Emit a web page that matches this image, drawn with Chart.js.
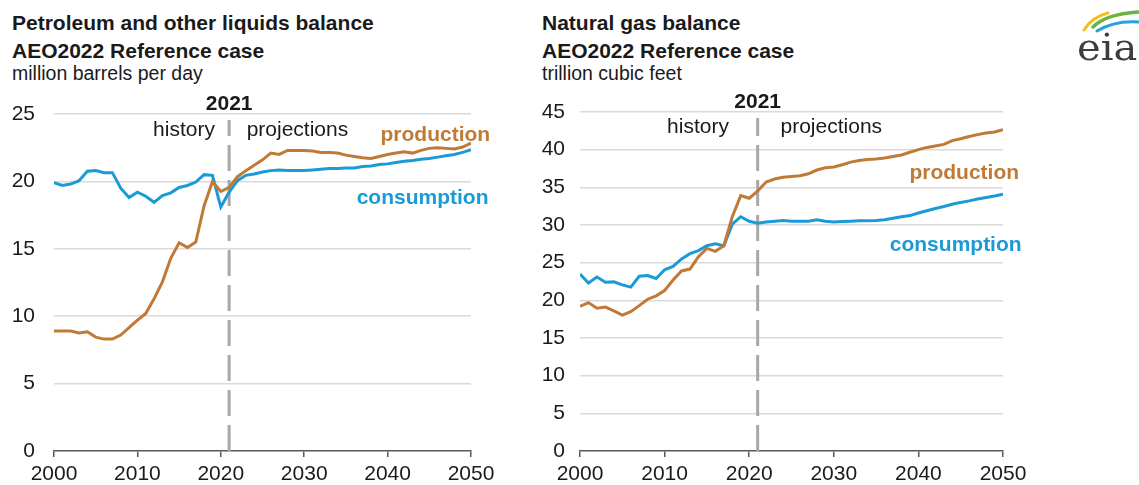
<!DOCTYPE html>
<html>
<head>
<meta charset="utf-8">
<script src="https://cdn.jsdelivr.net/npm/chart.js@4/dist/chart.umd.min.js"></script>
<style>
  body { margin: 0; width: 1139px; height: 485px; background: #fff; position: relative; overflow: hidden;
         font-family: "Liberation Sans", Arial, sans-serif; color: #1a1a1a; }
  canvas { position: absolute; top: 0; }
  .t { position: absolute; white-space: nowrap; }
  .b { font-weight: bold; font-size: 21px; line-height: 21px; }
  .s { font-size: 19.5px; line-height: 19.5px; }
</style>
</head>
<body>
<div class="t b" style="left:12px; top:12px">Petroleum and other liquids balance</div>
<div class="t b" style="left:12px; top:40px">AEO2022 Reference case</div>
<div class="t s" style="left:12px; top:64px">million barrels per day</div>
<div class="t b" style="left:542px; top:12px">Natural gas balance</div>
<div class="t b" style="left:542px; top:40px">AEO2022 Reference case</div>
<div class="t s" style="left:542px; top:64px">trillion cubic feet</div>

<canvas id="oilChart" width="540" height="485" style="left:0"></canvas>
<canvas id="gasChart" width="599" height="485" style="left:540px"></canvas>
<canvas id="logo" width="79" height="75" style="left:1060px"></canvas>

<script>
var years = [2000, 2001, 2002, 2003, 2004, 2005, 2006, 2007, 2008, 2009,
             2010, 2011, 2012, 2013, 2014, 2015, 2016, 2017, 2018, 2019,
             2020, 2021, 2022, 2023, 2024, 2025, 2026, 2027, 2028, 2029,
             2030, 2031, 2032, 2033, 2034, 2035, 2036, 2037, 2038, 2039,
             2040, 2041, 2042, 2043, 2044, 2045, 2046, 2047, 2048, 2049, 2050];

// petroleum and other liquids, million barrels per day
var oilProduction = [8.9, 8.9, 8.9, 8.75, 8.85, 8.45, 8.3, 8.3, 8.6, 9.15,
                     9.7, 10.2, 11.3, 12.55, 14.3, 15.45, 15.1, 15.5, 18.2, 20.0,
                     19.25, 19.55, 20.35, 20.8, 21.2, 21.6, 22.1, 22.0, 22.3, 22.3,
                     22.3, 22.25, 22.15, 22.15, 22.1, 21.95, 21.85, 21.75, 21.7, 21.85,
                     22.0, 22.1, 22.2, 22.1, 22.3, 22.45, 22.5, 22.45, 22.4, 22.55, 22.85];
var oilConsumption = [19.9, 19.7, 19.8, 20.05, 20.75, 20.8, 20.65, 20.65, 19.5, 18.8,
                      19.2, 18.9, 18.45, 18.95, 19.15, 19.55, 19.7, 19.95, 20.5, 20.45,
                      18.1, 19.2, 20.05, 20.45, 20.55, 20.7, 20.8, 20.85, 20.8, 20.8,
                      20.8, 20.85, 20.9, 20.95, 20.95, 21.0, 21.0, 21.1, 21.15, 21.25,
                      21.3, 21.4, 21.5, 21.55, 21.65, 21.7, 21.8, 21.9, 22.0, 22.15, 22.35];

// natural gas, trillion cubic feet
var gasProduction = [19.2, 19.7, 18.95, 19.1, 18.6, 18.05, 18.5, 19.3, 20.15, 20.6,
                     21.3, 22.7, 23.9, 24.15, 25.8, 26.9, 26.5, 27.25, 31.1, 33.9,
                     33.55, 34.5, 35.7, 36.1, 36.35, 36.45, 36.55, 36.8, 37.3, 37.6,
                     37.7, 38.0, 38.35, 38.55, 38.7, 38.75, 38.9, 39.1, 39.3, 39.65,
                     40.0, 40.3, 40.5, 40.7, 41.2, 41.45, 41.75, 42.0, 42.2, 42.35, 42.65];
var gasConsumption = [23.5, 22.3, 23.1, 22.4, 22.45, 22.05, 21.75, 23.2, 23.3, 22.9,
                      24.05, 24.5, 25.5, 26.2, 26.6, 27.25, 27.5, 27.25, 30.1, 31.1,
                      30.5, 30.25, 30.4, 30.5, 30.6, 30.5, 30.5, 30.5, 30.7, 30.5,
                      30.4, 30.45, 30.5, 30.55, 30.55, 30.6, 30.7, 30.9, 31.1, 31.25,
                      31.6, 31.9, 32.2, 32.45, 32.75, 33.0, 33.2, 33.45, 33.65, 33.85, 34.1];

var xTicks = [2000, 2010, 2020, 2030, 2040, 2050];
var lastHistoryYear = 2021;

var ORANGE = '#c17a35';
var BLUE = '#1a9ad7';
var FONT = '"Liberation Sans", Arial, sans-serif';

function points(values) {
    return years.map(function(yr, i){ return {x: yr, y: values[i]}; });
}

// dashed divider + text labels placed in data units
var notesPlugin = {
    id: 'notes',
    beforeDatasetsDraw: function(chart, args, opts) {
        var ctx = chart.ctx, area = chart.chartArea;
        var px = chart.scales.x.getPixelForValue(opts.divider);
        ctx.save();
        ctx.strokeStyle = '#a8a8a8';
        ctx.lineWidth = 3;
        ctx.setLineDash([26, 9]);
        ctx.beginPath();
        ctx.moveTo(px, area.bottom);
        ctx.lineTo(px, area.top + 6);
        ctx.stroke();
        ctx.restore();
    },
    afterDraw: function(chart, args, opts) {
        var ctx = chart.ctx;
        ctx.save();
        ctx.textBaseline = 'alphabetic';
        opts.labels.forEach(function(l){
            ctx.font = (l.bold ? 'bold ' : '') + '21px ' + FONT;
            ctx.fillStyle = l.color || '#1a1a1a';
            ctx.textAlign = l.align || 'left';
            ctx.fillText(l.text, chart.scales.x.getPixelForValue(l.x), chart.scales.y.getPixelForValue(l.y));
        });
        ctx.restore();
    }
};

function makeChart(id, prod, cons, yMax, yAxisWidth, labelPad, pad, labels) {
    return new Chart(document.getElementById(id), {
        type: 'line',
        data: {
            datasets: [
                {data: points(prod), borderColor: ORANGE, borderWidth: 3, pointRadius: 0, tension: 0},
                {data: points(cons), borderColor: BLUE, borderWidth: 3, pointRadius: 0, tension: 0}
            ]
        },
        options: {
            responsive: false,
            animation: false,
            layout: {padding: pad},
            plugins: {
                legend: {display: false},
                tooltip: {enabled: false},
                notes: {divider: lastHistoryYear, labels: labels}
            },
            scales: {
                x: {
                    type: 'linear',
                    min: 2000,
                    max: 2050,
                    afterBuildTicks: function(scale){ scale.ticks = xTicks.map(function(v){ return {value: v}; }); },
                    afterFit: function(scale){ scale.height = 34; },
                    grid: {drawOnChartArea: false, drawTicks: true, tickLength: 6, color: '#595959', lineWidth: 1.5},
                    border: {display: true, color: '#595959', width: 1.5},
                    ticks: {font: {family: FONT, size: 21}, color: '#1a1a1a', padding: 5, maxRotation: 0,
                            callback: function(v){ return String(v); }}
                },
                y: {
                    min: 0,
                    max: yMax,
                    afterFit: function(scale){ scale.width = yAxisWidth; },
                    grid: {drawTicks: false, lineWidth: 1.5,
                           color: function(c){ return c.tick && c.tick.value === 0 ? 'rgba(0,0,0,0)' : '#dadada'; }},
                    border: {display: false},
                    ticks: {stepSize: 5, font: {family: FONT, size: 21}, color: '#1a1a1a', padding: labelPad}
                }
            }
        },
        plugins: [notesPlugin]
    });
}

makeChart('oilChart', oilProduction, oilConsumption, 25, 54, 19,
    {left: 0, right: 69, top: 114, bottom: 0},
    [
        {text: '2021', x: 2021, y: 25.3, bold: true, align: 'center'},
        {text: 'history', x: 2019.3, y: 23.4, align: 'right'},
        {text: 'projections', x: 2023.1, y: 23.4, align: 'left'},
        {text: 'production', x: 2052.3, y: 23.0, bold: true, align: 'right', color: ORANGE},
        {text: 'consumption', x: 2052.1, y: 18.3, bold: true, align: 'right', color: BLUE}
    ]);

makeChart('gasChart', gasProduction, gasConsumption, 45, 40, 15,
    {left: 0, right: 136, top: 112, bottom: 0},
    [
        {text: '2021', x: 2021, y: 45.5, bold: true, align: 'center'},
        {text: 'history', x: 2017.6, y: 42.2, align: 'right'},
        {text: 'projections', x: 2023.7, y: 42.2, align: 'left'},
        {text: 'production', x: 2051.9, y: 36.1, bold: true, align: 'right', color: ORANGE},
        {text: 'consumption', x: 2052.2, y: 26.5, bold: true, align: 'right', color: BLUE}
    ]);

// eia logo
(function(){
    var ctx = document.getElementById('logo').getContext('2d');
    ctx.lineCap = 'round';
    function arc(color, w, x0, y0, cx, cy, x1, y1) {
        ctx.strokeStyle = color;
        ctx.lineWidth = w;
        ctx.beginPath();
        ctx.moveTo(x0, y0);
        ctx.quadraticCurveTo(cx, cy, x1, y1);
        ctx.stroke();
    }
    arc('#f0c020', 3, 24, 30, 32, 17, 48, 13);
    arc('#6cb33f', 3.5, 33, 27, 46, 14, 78, 12);
    arc('#27a3d8', 3, 37, 31, 55, 20, 80, 22);
    ctx.save();
    ctx.fillStyle = '#3d3d3d';
    ctx.font = '37px "DejaVu Serif", serif';
    ctx.translate(17, 60);
    ctx.scale(1.08, 1);
    ctx.fillText('eia', 0, 0);
    ctx.restore();
})();
</script>
</body>
</html>
